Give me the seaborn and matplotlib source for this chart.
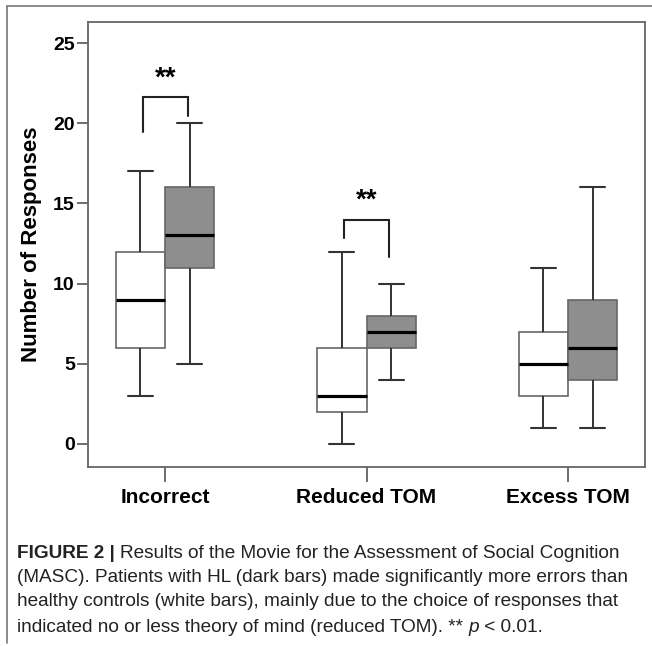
import numpy as np
import pandas as pd
import matplotlib
matplotlib.use("Agg")
import matplotlib.pyplot as plt
from matplotlib.lines import Line2D
import seaborn as sns

# ---- data (five-number summaries) ----
categories = ["Incorrect", "Reduced TOM", "Excess TOM"]
groups = ["Healthy controls", "HL patients"]
controls_incorrect = [3, 6, 9, 12, 17]
controls_reduced = [0, 2, 3, 6, 12]
controls_excess = [1, 3, 5, 7, 11]
patients_incorrect = [5, 11, 13, 16, 20]
patients_reduced = [4, 6, 7, 8, 10]
patients_excess = [1, 4, 6, 9, 16]
y_ticks = [0, 5, 10, 15, 20, 25]
ylabel = "Number of Responses"
sig_labels = ["**", "**"]

rows = []
for cat, vals in zip(categories, [controls_incorrect, controls_reduced, controls_excess]):
    rows += [(cat, groups[0], v) for v in vals]
for cat, vals in zip(categories, [patients_incorrect, patients_reduced, patients_excess]):
    rows += [(cat, groups[1], v) for v in vals]
df = pd.DataFrame(rows, columns=["category", "group", "value"])

sns.set_style("white")
plt.rcParams["font.family"] = ["Liberation Sans", "DejaVu Sans"]
plt.rcParams["text.color"] = "black"
plt.rcParams["axes.labelcolor"] = "black"
plt.rcParams["xtick.color"] = "black"
plt.rcParams["ytick.color"] = "black"

W, H = 652, 646
fig = plt.figure(figsize=(W / 100, H / 100), dpi=100)
ax = fig.add_axes([88 / W, 1 - 467 / H, 557 / W, 445 / H])

sns.boxplot(
    data=df, x="category", y="value", hue="group", order=categories,
    hue_order=groups, palette={groups[0]: "white", groups[1]: "#8e8e8e"},
    saturation=1, width=0.49, gap=0, whis=(0, 100), linecolor="#666666",
    linewidth=1.2, legend=False, ax=ax,
    medianprops=dict(color="black", linewidth=2.3),
    whiskerprops=dict(color="#333333", linewidth=1.4),
    capprops=dict(color="#333333", linewidth=1.5),
)

ax.set_xlim(-0.382, 2.382)
ax.set_ylim(-1.434, 26.31)
ax.set_yticks(y_ticks)
ax.set_yticklabels([str(t) for t in y_ticks], fontsize=14, fontweight="bold")
ax.set_xticks(range(len(categories)))
ax.set_xticklabels(categories, fontsize=15, fontweight="bold")
ax.set_xlabel("")
ax.set_ylabel(ylabel, fontsize=16, fontweight="bold", labelpad=8)
ax.tick_params(axis="y", direction="out", length=8, width=1.2, color="#555555", pad=1.5, left=True)
ax.tick_params(axis="x", direction="out", length=11, width=1.2, color="#555555", pad=4, bottom=True)
for s in ax.spines.values():
    s.set_visible(True)
    s.set_color("#666666")
    s.set_linewidth(1.3)

# significance brackets
brackets = [(-0.109, 0.116, 19.43, 20.47, 21.65, 22.8), (0.889, 1.112, 12.82, 11.68, 13.97, 15.17)]
for (x1, x2, yl, yr, yt, ys), lab in zip(brackets, sig_labels):
    ax.plot([x1, x1, x2, x2], [yl, yt, yt, yr], color="#222222", lw=1.5, solid_joinstyle="miter")
    ax.text((x1 + x2) / 2, ys, lab, ha="center", va="center", fontsize=20, fontweight="bold")

# outer frame (top and left)
fig.add_artist(Line2D([7 / W, 7 / W], [1 - 643 / H, 1 - 6 / H], color="#777777", lw=1.2, transform=fig.transFigure))
fig.add_artist(Line2D([7 / W, 1.0], [1 - 6 / H, 1 - 6 / H], color="#777777", lw=1.2, transform=fig.transFigure))

# caption
renderer = fig.canvas.get_renderer()
line1 = [("FIGURE 2 | ", dict(fontweight="bold")),
         ("Results of the Movie for the Assessment of Social Cognition", {})]

def measure(parts, fs):
    w = 0
    for txt, kw in parts:
        t = fig.text(0, 0, txt, fontsize=fs, **kw)
        w += t.get_window_extent(renderer=renderer).width
        t.remove()
    return w

cap_fs = 10 * 606 / measure(line1, 10)

def seq(parts, x0, y):
    x = x0
    for txt, kw in parts:
        t = fig.text(x / W, 1 - y / H, txt, fontsize=cap_fs, va="center", ha="left", color="#222222", **kw)
        x += t.get_window_extent(renderer=renderer).width
    return x

seq(line1, 17, 553)
seq([("(MASC). Patients with HL (dark bars) made significantly more errors than", {})], 17, 578)
seq([("healthy controls (white bars), mainly due to the choice of responses that", {})], 17, 602)
seq([("indicated no or less theory of mind (reduced TOM). ** ", {}),
     ("p", dict(style="italic")), (" < 0.01.", {})], 17, 627)

fig.savefig("out.png", dpi=100)
